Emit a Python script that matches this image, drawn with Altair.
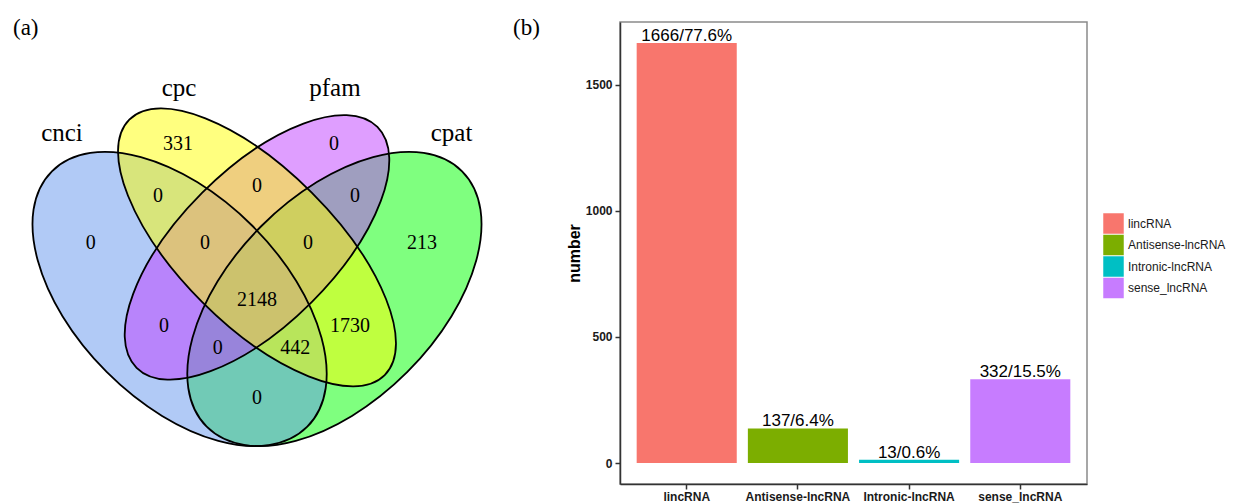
import altair as alt
import pandas as pd

# ---------------- panel (a): Venn diagram data ----------------
set_names = ["cnci", "cpc", "pfam", "cpat"]
set_fills = ["#6495ED", "#FFFF00", "#BF3EFF", "#00FF00"]

region_sets = ["cpc", "cpc&pfam", "pfam", "cnci&cpc", "pfam&cpat", "cnci", "cpat",
               "cnci&cpc&pfam", "cpc&pfam&cpat", "cnci&cpc&pfam&cpat", "cnci&pfam",
               "cpc&cpat", "cnci&pfam&cpat", "cnci&cpc&cpat", "cnci&cpat"]
region_counts = [331, 0, 0, 0, 0, 0, 213, 0, 0, 2148, 0, 1730, 0, 442, 0]

# ---------------- panel (b): bar chart data ----------------
categories = ["lincRNA", "Antisense-lncRNA", "Intronic-lncRNA", "sense_lncRNA"]
counts = [1666, 137, 13, 332]
bar_colors = ["#F8766D", "#7CAE00", "#00BFC4", "#C77CFF"]

# ---------------- Venn layout (VennDiagram quad coordinates) ----------------
ell_cx = [0.35, 0.50, 0.50, 0.65]
ell_cy = [0.47, 0.57, 0.57, 0.47]
ell_a = [0.35, 0.35, 0.33, 0.35]
ell_b = [0.20, 0.15, 0.15, 0.20]
ell_rot = [45, 45, 135, 135]
fill_draw_order = [1, 3, 2, 0]   # cnci, cpc, pfam, cpat -> painted cpat, cnci, pfam, cpc

lab_x = [0.347, 0.500, 0.649, 0.308, 0.690, 0.178, 0.820, 0.399, 0.599,
         0.500, 0.320, 0.680, 0.424, 0.574, 0.500]
lab_y = [0.770, 0.689, 0.770, 0.670, 0.670, 0.579, 0.579, 0.579, 0.579,
         0.468, 0.418, 0.418, 0.375, 0.375, 0.278]
name_x = [0.122, 0.349, 0.651, 0.877]
name_y = [0.776, 0.863, 0.863, 0.776]

PX = 516.0          # pixels per Venn unit
VW, VH = 480, 488   # Venn panel size
x_dom = [10 / PX, 10 / PX + VW / PX]
y_top = 532.5 / PX
y_dom = [y_top - VH / PX, y_top]


def ellipse_path(ratio):
    k = 0.5523
    kr = k * ratio
    r = ratio
    return (f"M 1 0 C 1 {kr:.4f} {k} {r:.4f} 0 {r:.4f} "
            f"C {-k} {r:.4f} -1 {kr:.4f} -1 0 "
            f"C -1 {-kr:.4f} {-k} {-r:.4f} 0 {-r:.4f} "
            f"C {k} {-r:.4f} 1 {-kr:.4f} 1 0 Z")


ell_df = pd.DataFrame({
    "name": set_names,
    "cx": ell_cx,
    "cy": ell_cy,
    "shape": [ellipse_path(b / a) for a, b in zip(ell_a, ell_b)],
    "size": [(2 * a * PX) ** 2 for a in ell_a],
    "angle": ell_rot,
    "fill": set_fills,
    "paint": fill_draw_order,
})
fill_df = ell_df.sort_values("paint").reset_index(drop=True)

reg_df = pd.DataFrame({"region": region_sets, "count": region_counts,
                       "x": lab_x, "y": lab_y})
name_df = pd.DataFrame({"name": set_names, "x": name_x, "y": name_y})

xs = alt.Scale(domain=x_dom, nice=False, zero=False)
ys = alt.Scale(domain=y_dom, nice=False, zero=False)

ell_enc = dict(
    x=alt.X("cx:Q", scale=xs, axis=None),
    y=alt.Y("cy:Q", scale=ys, axis=None),
    shape=alt.Shape("shape:N", scale=None),
    size=alt.Size("size:Q", scale=None),
    angle=alt.Angle("angle:Q", scale=None),
)

ell_fill = alt.Chart(fill_df).mark_point(
    filled=True, opacity=1, fillOpacity=0.5, strokeWidth=0
).encode(fill=alt.Fill("fill:N", scale=None), **ell_enc)

ell_line = alt.Chart(ell_df).mark_point(
    filled=False, opacity=1, stroke="black", strokeWidth=1.8
).encode(**ell_enc)

reg_text = alt.Chart(reg_df).mark_text(
    font="Liberation Serif", fontSize=20, color="black", baseline="middle", align="center"
).encode(
    x=alt.X("x:Q", scale=xs, axis=None),
    y=alt.Y("y:Q", scale=ys, axis=None),
    text="count:Q",
)

name_text = alt.Chart(name_df).mark_text(
    font="Liberation Serif", fontSize=25, color="black", baseline="alphabetic", align="center"
).encode(
    x=alt.X("x:Q", scale=xs, axis=None),
    y=alt.Y("y:Q", scale=ys, axis=None),
    text="name:N",
)

tag_a = alt.Chart(pd.DataFrame({"t": ["(a)"]})).mark_text(
    font="Liberation Serif", fontSize=23, color="black", baseline="middle", align="left"
).encode(x=alt.value(4), y=alt.value(19), text="t:N")

venn = alt.layer(ell_fill, ell_line, reg_text, name_text, tag_a).properties(
    width=VW, height=VH
)

# ---------------- bar chart ----------------
total = sum(counts)
labels = [f"{v}/{v / total * 100:.1f}%" for v in counts]
bar_df = pd.DataFrame({"type": categories, "number": counts, "label": labels})

ymax = max(counts)
ypad = 0.05 * ymax

x_enc = alt.X(
    "type:N", sort=categories,
    scale=alt.Scale(paddingInner=0.1, paddingOuter=0.15),
    axis=alt.Axis(title=None, labelAngle=0, labelFont="Liberation Sans",
                  labelFontWeight="bold", labelFontSize=12, labelColor="#1a1a1a",
                  tickColor="#333333", tickSize=5, tickWidth=1.5,
                  domainColor="#333333", domainWidth=1.5, labelPadding=2),
)
y_enc = alt.Y(
    "number:Q",
    scale=alt.Scale(domain=[-ypad, ymax + ypad], nice=False, zero=False),
    axis=alt.Axis(values=[0, 500, 1000, 1500], format="d", grid=False, title="number",
                  titleFont="Liberation Sans", titleFontSize=16, titleFontWeight="bold",
                  titleColor="black", titlePadding=3,
                  labelFont="Liberation Sans", labelFontWeight="bold", labelFontSize=12,
                  labelColor="#1a1a1a", tickColor="#333333", tickSize=5, tickWidth=1.5,
                  domainColor="#333333", domainWidth=1.5, labelPadding=3),
)

bars = alt.Chart(bar_df).mark_bar().encode(
    x=x_enc,
    y=y_enc,
    y2=alt.datum(0),
    color=alt.Color(
        "type:N", sort=categories,
        scale=alt.Scale(domain=categories, range=bar_colors),
        legend=alt.Legend(title=None, orient="none", legendX=1094, legendY=204,
                          symbolType="square", symbolSize=420, symbolStrokeWidth=0,
                          symbolOpacity=1, labelFont="Liberation Sans", labelFontSize=12,
                          labelColor="#1a1a1a", rowPadding=0.5, labelOffset=4, padding=0),
    ),
)

bar_text = alt.Chart(bar_df).mark_text(
    font="Liberation Sans", fontSize=17, color="black", baseline="alphabetic", dy=-2
).encode(x=x_enc, y=y_enc, text="label:N")

tag_b = alt.Chart(pd.DataFrame({"t": ["(b)"]})).mark_text(
    font="Liberation Serif", fontSize=23, color="black", baseline="middle", align="left"
).encode(x=alt.value(-107), y=alt.value(6), text="t:N")

bar_panel = alt.layer(bars, bar_text, tag_b).properties(
    width=467, height=462,
    view=alt.ViewBackground(stroke="#8a8a8a", strokeWidth=1.5),
)

chart = alt.hconcat(venn, bar_panel, spacing=131, bounds="flush", center=True).properties(
    padding=0
).configure_view(stroke="transparent")

chart.save("out.html", embed_options={"renderer": "svg", "actions": False})
